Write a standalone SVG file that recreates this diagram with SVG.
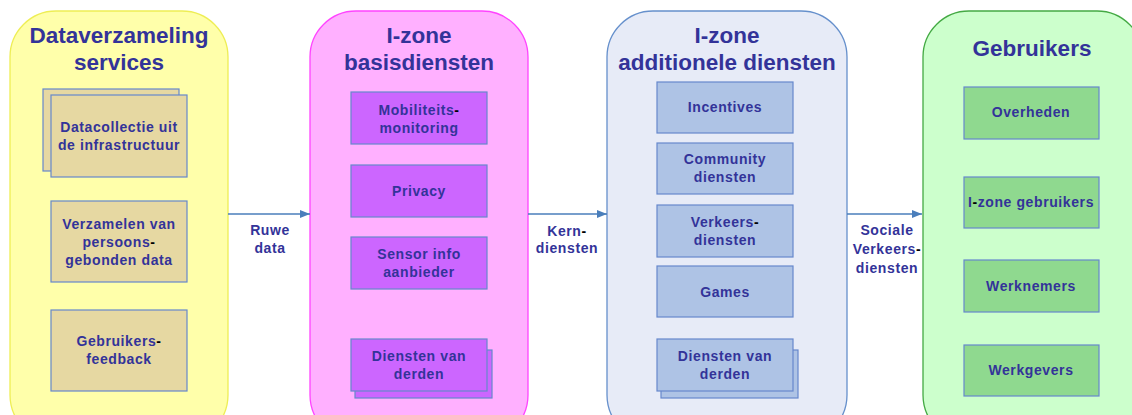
<svg xmlns="http://www.w3.org/2000/svg" width="1132" height="415" viewBox="0 0 1132 415">
<defs>
<style>
text{font-family:"Liberation Sans",Arial,sans-serif;font-weight:bold;fill:#333399;text-anchor:middle}
.t{font-size:22.5px}
.s{font-size:14px;letter-spacing:0.6px}
.k{fill:#000}
.box{stroke:#6688cc;stroke-width:1.2}
.tan{fill:#e6d8a2}
.pur{fill:#cc66ff}
.blu{fill:#aec3e5}
.grn{fill:#8fd98f}
.conn{stroke:#4a7ebb;stroke-width:1.3;fill:none}
</style>
<marker id="ah" markerWidth="10" markerHeight="8" refX="10" refY="4" orient="auto" markerUnits="userSpaceOnUse">
<path d="M0,0 L10,4 L0,8 Z" fill="#4a7ebb"/>
</marker>
</defs>
<rect width="1132" height="415" fill="#fff"/>

<g id="c1">
<rect x="10" y="11" width="218" height="430" rx="46" fill="#ffffaa" stroke="#eeee55" stroke-width="1.3"/>
<text class="t" x="119" y="43">Dataverzameling</text>
<text class="t" x="119" y="70">services</text>
</g>
<g id="n1">
<rect class="box tan" x="43" y="89" width="136" height="82"/>
<rect class="box tan" x="51" y="95" width="136" height="82"/>
<text class="s" x="119" y="132">Datacollectie uit</text>
<text class="s" x="119" y="150">de infrastructuur</text>
</g>
<g id="n2">
<rect class="box tan" x="51" y="201" width="136" height="81"/>
<text class="s" x="119" y="229">Verzamelen van</text>
<text class="s" x="119" y="247">persoons<tspan class="k">-</tspan></text>
<text class="s" x="119" y="265">gebonden data</text>
</g>
<g id="n3">
<rect class="box tan" x="51" y="310" width="136" height="81"/>
<text class="s" x="119" y="346">Gebruikers<tspan class="k">-</tspan></text>
<text class="s" x="119" y="364">feedback</text>
</g>

<g id="c2">
<rect x="310" y="11" width="218" height="430" rx="46" fill="#ffb0ff" stroke="#ff44ff" stroke-width="1.3"/>
<text class="t" x="419" y="43">I-zone</text>
<text class="t" x="419" y="70">basisdiensten</text>
</g>
<g id="n4">
<rect class="box pur" x="351" y="92" width="136" height="52"/>
<text class="s" x="419" y="115">Mobiliteits<tspan class="k">-</tspan></text>
<text class="s" x="419" y="133">monitoring</text>
</g>
<g id="n5">
<rect class="box pur" x="351" y="165" width="136" height="52"/>
<text class="s" x="419" y="196">Privacy</text>
</g>
<g id="n6">
<rect class="box pur" x="351" y="237" width="136" height="52"/>
<text class="s" x="419" y="259">Sensor info</text>
<text class="s" x="419" y="277">aanbieder</text>
</g>
<g id="n7">
<rect class="box pur" x="355" y="350" width="137" height="48"/>
<rect class="box pur" x="351" y="339" width="136" height="52"/>
<text class="s" x="419" y="361">Diensten van</text>
<text class="s" x="419" y="379">derden</text>
</g>

<g id="c3">
<rect x="607" y="11" width="240" height="430" rx="46" fill="#e7ebf7" stroke="#6690cc" stroke-width="1.3"/>
<text class="t" x="727" y="43">I-zone</text>
<text class="t" x="727" y="70">additionele diensten</text>
</g>
<g id="n8">
<rect class="box blu" x="657" y="82" width="136" height="51"/>
<text class="s" x="725" y="112">Incentives</text>
</g>
<g id="n9">
<rect class="box blu" x="657" y="143" width="136" height="51"/>
<text class="s" x="725" y="164">Community</text>
<text class="s" x="725" y="182">diensten</text>
</g>
<g id="n10">
<rect class="box blu" x="657" y="205" width="136" height="52"/>
<text class="s" x="725" y="227">Verkeers<tspan class="k">-</tspan></text>
<text class="s" x="725" y="245">diensten</text>
</g>
<g id="n11">
<rect class="box blu" x="657" y="266" width="136" height="51"/>
<text class="s" x="725" y="297">Games</text>
</g>
<g id="n12">
<rect class="box blu" x="661" y="350" width="137" height="48"/>
<rect class="box blu" x="657" y="339" width="136" height="52"/>
<text class="s" x="725" y="361">Diensten van</text>
<text class="s" x="725" y="379">derden</text>
</g>

<g id="c4">
<rect x="923" y="11" width="220" height="430" rx="46" fill="#ccffcc" stroke="#44aa44" stroke-width="1.3"/>
<text class="t" x="1032" y="56">Gebruikers</text>
</g>
<g id="n13">
<rect class="box grn" x="964" y="87" width="135" height="52"/>
<text class="s" x="1031" y="117">Overheden</text>
</g>
<g id="n14">
<rect class="box grn" x="964" y="177" width="135" height="51"/>
<text class="s" x="1031" y="207">I<tspan class="k">-</tspan>zone gebruikers</text>
</g>
<g id="n15">
<rect class="box grn" x="964" y="260" width="135" height="52"/>
<text class="s" x="1031" y="291">Werknemers</text>
</g>
<g id="n16">
<rect class="box grn" x="964" y="345" width="135" height="51"/>
<text class="s" x="1031" y="375">Werkgevers</text>
</g>

<g id="connectors">
<line class="conn" x1="228" y1="214" x2="310" y2="214" marker-end="url(#ah)"/>
<text class="s" x="270" y="235">Ruwe</text>
<text class="s" x="270" y="253">data</text>
<line class="conn" x1="528" y1="214" x2="607" y2="214" marker-end="url(#ah)"/>
<text class="s" x="567" y="236">Kern<tspan class="k">-</tspan></text>
<text class="s" x="567" y="253">diensten</text>
<line class="conn" x1="847" y1="214" x2="922" y2="214" marker-end="url(#ah)"/>
<text class="s" x="887" y="235">Sociale</text>
<text class="s" x="887" y="254">Verkeers<tspan class="k">-</tspan></text>
<text class="s" x="887" y="273">diensten</text>
</g>
</svg>
